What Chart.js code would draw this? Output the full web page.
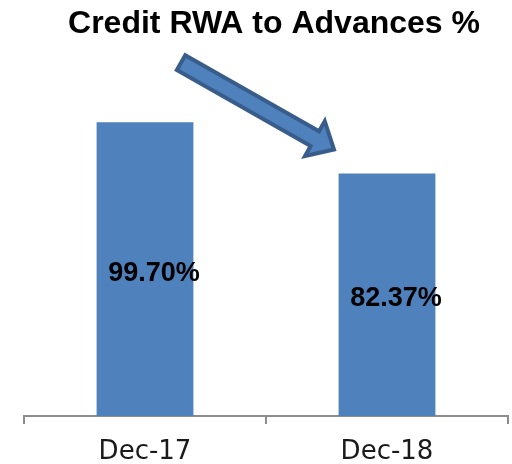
<!DOCTYPE html>
<html>
<head>
<meta charset="utf-8">
<script src="https://cdn.jsdelivr.net/npm/chart.js@4.4.1/dist/chart.umd.min.js"></script>
<style>
  html, body { margin: 0; padding: 0; background: #fff; }
  #wrap { width: 512px; height: 464px; }
</style>
</head>
<body>
<div id="wrap"><canvas id="rwaChart" width="512" height="464"></canvas></div>
<script>
// data
const categories = ['Dec-17', 'Dec-18'];
const rwaValues = [99.70, 82.37];
const valueLabels = ['99.70%', '82.37%'];
const chartTitle = 'Credit RWA to Advances %';

const barBlue = '#4F81BD';
const arrowEdge = '#385D8A';

// the downward arrow, anchored in scale units (category index, y value)
const arrowFrom = { x: 0.149, y: 120 };
const arrowTo = { x: 0.781, y: 90.5 };

const titlePlugin = {
    id: 'titleText',
    afterDraw(chart) {
        const ctx = chart.ctx;
        ctx.save();
        ctx.font = 'bold 32px "Liberation Sans", Arial, sans-serif';
        ctx.fillStyle = '#000';
        ctx.textAlign = 'center';
        ctx.textBaseline = 'alphabetic';
        ctx.fillText(chartTitle, 274, 33);
        ctx.restore();
    }
};

const barLabelPlugin = {
    id: 'barLabels',
    afterDatasetsDraw(chart) {
        const ctx = chart.ctx;
        const meta = chart.getDatasetMeta(0);
        ctx.save();
        ctx.font = 'bold 27px "Liberation Sans", Arial, sans-serif';
        ctx.fillStyle = '#000';
        ctx.textAlign = 'center';
        ctx.textBaseline = 'middle';
        meta.data.forEach((bar, i) => {
            const midY = (bar.y + bar.base) / 2;
            ctx.fillText(valueLabels[i], bar.x + 9, midY + 4);
        });
        ctx.restore();
    }
};

const arrowPlugin = {
    id: 'trendArrow',
    afterDatasetsDraw(chart) {
        const xs = chart.scales.x;
        const ys = chart.scales.y;
        const x0 = xs.getPixelForValue(arrowFrom.x), y0 = ys.getPixelForValue(arrowFrom.y);
        const x1 = xs.getPixelForValue(arrowTo.x), y1 = ys.getPixelForValue(arrowTo.y);
        const len = Math.hypot(x1 - x0, y1 - y0);
        const ux = (x1 - x0) / len, uy = (y1 - y0) / len;
        const px = -uy, py = ux;
        const shaftW = 8.5, headW = 20, headL = 22;
        const hx = x1 - ux * headL, hy = y1 - uy * headL;
        const pts = [
            [x0 + px * shaftW, y0 + py * shaftW],
            [hx + px * shaftW, hy + py * shaftW],
            [hx + px * headW, hy + py * headW],
            [x1, y1],
            [hx - px * headW, hy - py * headW],
            [hx - px * shaftW, hy - py * shaftW],
            [x0 - px * shaftW, y0 - py * shaftW]
        ];
        const ctx = chart.ctx;
        ctx.save();
        ctx.beginPath();
        pts.forEach((p, i) => i ? ctx.lineTo(p[0], p[1]) : ctx.moveTo(p[0], p[1]));
        ctx.closePath();
        ctx.fillStyle = barBlue;
        ctx.fill();
        ctx.lineWidth = 4;
        ctx.lineJoin = 'miter';
        ctx.strokeStyle = arrowEdge;
        ctx.stroke();
        ctx.restore();
    }
};

const ctx = document.getElementById('rwaChart').getContext('2d');

const rwaChart = new Chart(ctx, {
    type: 'bar',
    data: {
        labels: categories,
        datasets: [{
            data: rwaValues,
            backgroundColor: barBlue,
            borderWidth: 0,
            barPercentage: 0.4,
            categoryPercentage: 1.0
        }]
    },
    options: {
        responsive: false,
        animation: false,
        layout: {
            padding: { top: 92, left: 24, right: 4, bottom: 0 }
        },
        plugins: {
            legend: { display: false },
            title: { display: false },
            tooltip: { enabled: false }
        },
        scales: {
            x: {
                afterFit(scale) {
                    scale.height = 48;
                },
                grid: {
                    display: true,
                    drawOnChartArea: false,
                    drawTicks: true,
                    tickLength: 8,
                    color: '#8c8c8c',
                    lineWidth: 2
                },
                border: { display: true, color: '#8c8c8c', width: 2 },
                ticks: {
                    color: '#1a1a1a',
                    padding: 13,
                    font: { family: '"DejaVu Sans", sans-serif', size: 26 }
                }
            },
            y: {
                display: false,
                min: 0,
                max: 110
            }
        }
    },
    plugins: [titlePlugin, barLabelPlugin, arrowPlugin]
});
</script>
</body>
</html>
